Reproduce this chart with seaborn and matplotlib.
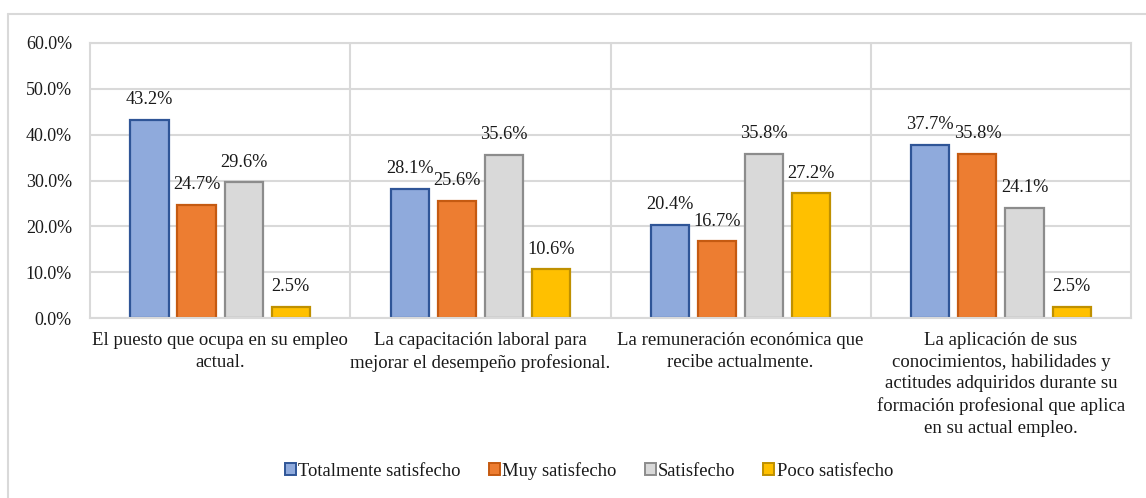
import matplotlib
matplotlib.use("Agg")
import matplotlib.pyplot as plt
from matplotlib.patches import Patch
from matplotlib.lines import Line2D
import seaborn as sns
import pandas as pd

# Survey items (x-axis categories)
categories = [
    "El puesto que ocupa en su empleo\nactual.",
    "La capacitación laboral para\nmejorar el desempeño profesional.",
    "La remuneración económica que\nrecibe actualmente.",
    "La aplicación de sus\nconocimientos, habilidades y\nactitudes adquiridos durante su\nformación profesional que aplica\nen su actual empleo.",
]

# Satisfaction levels (series)
series = ["Totalmente satisfecho", "Muy satisfecho", "Satisfecho", "Poco satisfecho"]

# Percentages per level, one value per survey item
totalmente = [43.2, 28.1, 20.4, 37.7]
muy = [24.7, 25.6, 16.7, 35.8]
satisfecho = [29.6, 35.6, 35.8, 24.1]
poco = [2.5, 10.6, 27.2, 2.5]

fills = ["#8faadc", "#ed7d31", "#d9d9d9", "#ffc000"]
edges = ["#2f5597", "#c55a11", "#8c8c8c", "#bf9000"]

values = [totalmente, muy, satisfecho, poco]
rows = []
for s, vals in zip(series, values):
    for c, v in zip(categories, vals):
        rows.append({"categoria": c, "nivel": s, "valor": v / 100.0})
df = pd.DataFrame(rows)

sns.set_theme(style="white")
plt.rcParams["font.family"] = ["Liberation Serif", "DejaVu Serif"]
plt.rcParams["font.size"] = 13.4

text_c = "#1a1a1a"
fig = plt.figure(figsize=(11.46, 4.98), dpi=100)
ax = fig.add_axes([0.0785, 0.3614, 0.9085, 0.5523])

sns.barplot(
    data=df, x="categoria", y="valor", hue="nivel",
    order=categories, hue_order=series, palette=fills,
    width=0.724, gap=0.19, ax=ax, legend=False,
    errorbar=None, linewidth=1.6, saturation=1,
)

for cont, ec, vals in zip(ax.containers, edges, values):
    for bar in cont:
        bar.set_edgecolor(ec)
        bar.set_linewidth(1.6)
    ax.bar_label(cont, labels=[f"{v:.1f}%" for v in vals], padding=8.5,
                 fontsize=13.2, color=text_c)

grid_c = "#d9d9d9"
ax.set_ylim(0, 0.6)
ax.set_xlim(-0.5, len(categories) - 0.5)
ax.set_yticks([i / 10 for i in range(7)])
ax.set_yticklabels([f"{i * 10:.1f}%" for i in range(7)], fontsize=13, color=text_c)
ax.yaxis.grid(True, color=grid_c, linewidth=1.5)
for xb in [i + 0.5 for i in range(len(categories) - 1)]:
    ax.axvline(xb, color=grid_c, linewidth=1.5, zorder=0)
ax.set_axisbelow(True)
for sp in ax.spines.values():
    sp.set_color(grid_c)
    sp.set_linewidth(1.5)
ax.tick_params(axis="y", length=0, pad=13)
ax.tick_params(axis="x", length=0, pad=10)
ax.set_xticks(range(len(categories)))
ax.set_xticklabels(categories, fontsize=13.5, color=text_c, linespacing=1.36)
ax.set_xlabel("")
ax.set_ylabel("")

handles = [Patch(facecolor=f, edgecolor=e, linewidth=1.4) for f, e in zip(fills, edges)]
fig.legend(handles, series, loc="center", bbox_to_anchor=(0.514, 0.055), ncol=4,
           frameon=False, fontsize=13.4, handlelength=0.6, handleheight=0.6,
           handletextpad=0.12, columnspacing=1.5, labelcolor=text_c)

# outer chart frame (left and top edges)
fig.add_artist(Line2D([8 / 1146, 8 / 1146], [0, 1 - 14 / 498], color=grid_c, linewidth=1.5,
                      transform=fig.transFigure))
fig.add_artist(Line2D([8 / 1146, 1], [1 - 14 / 498, 1 - 14 / 498], color=grid_c, linewidth=1.5,
                      transform=fig.transFigure))

fig.savefig("out.png", dpi=100)
